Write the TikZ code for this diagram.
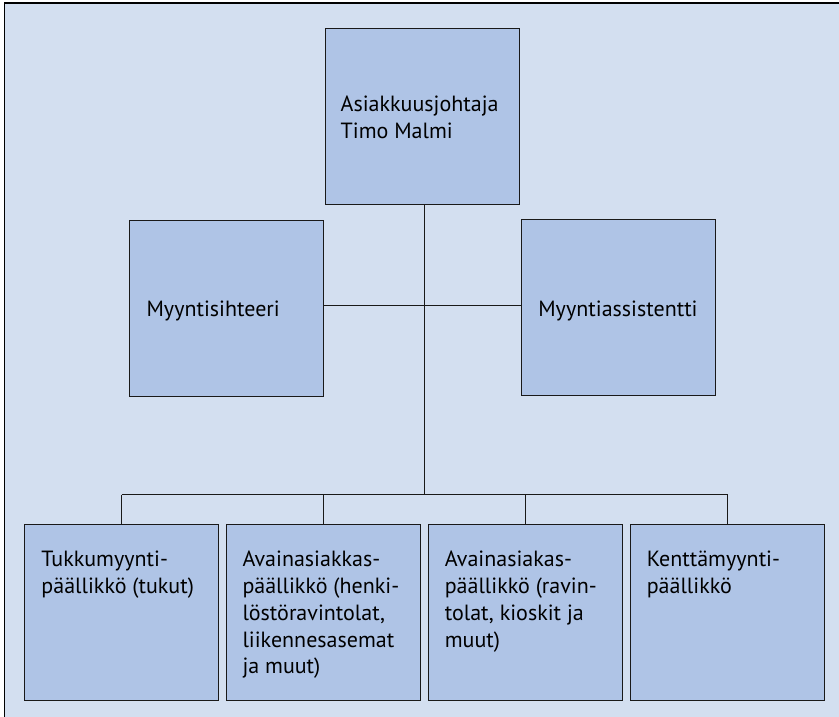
\documentclass[tikz,border=0pt]{standalone}
\usepackage{fontspec}
\setmainfont{PT Sans}
% left-aligned stack of lines whose baseline is that of the first line
\newcommand\textstack[1]{\begin{tabular}[t]{@{}l@{}}#1\end{tabular}}
\begin{document}
\begin{tikzpicture}[x=1pt,y=-1pt,
  every node/.style={inner sep=0pt, outer sep=0pt},
  orgbox/.style={draw=black!90, line width=1pt, fill=boxblue,
    minimum width=194pt, minimum height=176pt},
  boxtext/.style={anchor=base west, font=\fontsize{22}{26.7}\selectfont},
  link/.style={draw=black!90, line width=1pt}]
\definecolor{pageblue}{HTML}{D3DFF0}
\definecolor{boxblue}{HTML}{AFC4E6}
\useasboundingbox (0,0) rectangle (839,716);
\clip (0,0) rectangle (839,716);
% page frame, running off the lower and right edges
\draw[line width=1.5pt, fill=pageblue] (4.5,3) rectangle (860,740);

% boxes
\node[orgbox] (head) at (422,116.3) {};
\node[orgbox] (sec)  at (226.8,308) {};
\node[orgbox] (asst) at (618.3,307.3) {};
\node[orgbox] (b1) at (121.8,612.2) {};
\node[orgbox] (b2) at (323.5,612.2) {};
\node[orgbox] (b3) at (525.5,612.2) {};
\node[orgbox] (b4) at (727.5,612.2) {};

% texts
\node[boxtext] (thead) at ([shift={(15.7,83.4)}]head.north west) {\textstack{Asiakkuusjohtaja\\Timo Malmi}};
\node[boxtext] (tsec)  at ([shift={(16.7,96.7)}]sec.north west) {Myyntisihteeri};
\node[boxtext] (tasst) at ([shift={(17,97.4)}]asst.north west) {Myyntiassistentti};
\node[boxtext] (tb1) at ([shift={(16.7,42.7)}]b1.north west) {\textstack{Tukkumyynti-\\päällikkö (tukut)}};
\node[boxtext] (tb2) at ([shift={(16,42.7)}]b2.north west) {\textstack{Avainasiakkas-\\päällikkö (henki-\\löstöravintolat,\\liikennesasemat\\ja muut)}};
\node[boxtext] (tb3) at ([shift={(16.3,42.7)}]b3.north west) {\textstack{Avainasiakas-\\päällikkö (ravin-\\tolat, kioskit ja\\muut)}};
\node[boxtext] (tb4) at ([shift={(16.3,42.7)}]b4.north west) {\textstack{Kenttämyynti-\\päällikkö}};

% connectors
\coordinate (bus) at (424.3,494.7);
\draw[link] (head.south -| bus) -- (bus);
\draw[link] (sec.east |- 0,305.3) -- (asst.west |- 0,305.3);
\draw[link] (b1.north |- bus) -- (b4.north |- bus);
\foreach \b in {b1,b2,b3,b4}
  \draw[link] (\b.north |- bus) -- (\b.north);
\end{tikzpicture}
\end{document}
